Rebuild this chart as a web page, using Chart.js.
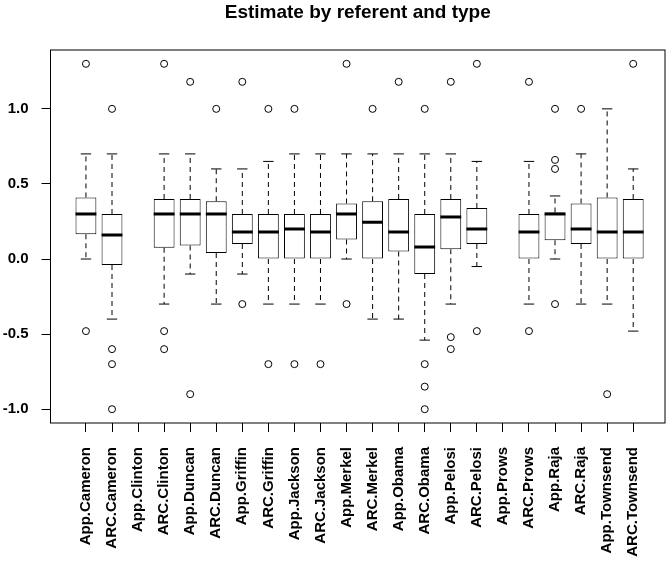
<!DOCTYPE html>
<html>
<head>
<meta charset="utf-8">
<script src="https://cdn.jsdelivr.net/npm/chart.js@4"></script>
<style>
  body { margin: 0; background: #ffffff; }
  #wrap { width: 670px; height: 562px; }
</style>
</head>
<body>
<div id="wrap"><canvas id="estimate-chart" width="670" height="562"></canvas></div>
<script>
// Groups along the x axis (referent x type)
const referents = [
    'App.Cameron', 'ARC.Cameron', 'App.Clinton', 'ARC.Clinton', 'App.Duncan', 'ARC.Duncan',
    'App.Griffin', 'ARC.Griffin', 'App.Jackson', 'ARC.Jackson', 'App.Merkel', 'ARC.Merkel',
    'App.Obama', 'ARC.Obama', 'App.Pelosi', 'ARC.Pelosi', 'App.Prows', 'ARC.Prows',
    'App.Raja', 'ARC.Raja', 'App.Townsend', 'ARC.Townsend'
];

// Box statistics (null = empty group)
const whiskerLow  = [0, -0.4, null, -0.3, -0.1, -0.3, -0.1, -0.3, -0.3, -0.3, 0, -0.4, -0.4, -0.54, -0.3, -0.05, null, -0.3, 0, -0.3, -0.3, -0.48];
const boxLow      = [0.165, -0.04, null, 0.075, 0.09, 0.04, 0.1, 0, 0, 0, 0.13, 0, 0.05, -0.1, 0.065, 0.1, null, 0, 0.125, 0.1, 0, 0];
const boxMedian   = [0.3, 0.16, null, 0.3, 0.3, 0.3, 0.18, 0.18, 0.2, 0.18, 0.3, 0.245, 0.18, 0.08, 0.28, 0.2, null, 0.18, 0.3, 0.2, 0.18, 0.18];
const boxHigh     = [0.41, 0.3, null, 0.4, 0.4, 0.385, 0.3, 0.3, 0.3, 0.3, 0.37, 0.385, 0.4, 0.3, 0.4, 0.34, null, 0.3, 0.31, 0.37, 0.41, 0.4];
const whiskerHigh = [0.7, 0.7, null, 0.7, 0.7, 0.6, 0.6, 0.65, 0.7, 0.7, 0.7, 0.7, 0.7, 0.7, 0.7, 0.65, null, 0.65, 0.42, 0.7, 1.0, 0.6];
const outliers = [
    [1.3, -0.48], [1.0, -0.6, -0.7, -1.0], [], [1.3, -0.48, -0.6], [1.18, -0.9], [1.0],
    [1.18, -0.3], [1.0, -0.7], [1.0, -0.7], [-0.7], [1.3, -0.3], [1.0],
    [1.18], [1.0, -0.7, -0.85, -1.0], [1.18, -0.52, -0.6], [1.3, -0.48], [], [1.18, -0.48],
    [1.0, 0.66, 0.6, -0.3], [1.0], [-0.9], [1.3]
];

const yTicks = [-1.0, -0.5, 0.0, 0.5, 1.0];

const FONT = '"Liberation Sans", Arial, sans-serif';
const BOX_HALF = 0.4;   // half box width in x units
const CAP_HALF = 0.2;   // half whisker cap width

function buildBoxes() {
    const boxes = [];
    referents.forEach((name, i) => {
        if (boxLow[i] === null) return;
        boxes.push({ x: i + 1, y: [boxLow[i], boxHigh[i]] });
    });
    return boxes;
}

function buildOutliers() {
    const points = [];
    outliers.forEach((list, i) => {
        list.forEach(v => points.push({ x: i + 1, y: v }));
    });
    return points;
}

// whiskers, caps, medians and the frame round the plot
const boxPartsPlugin = {
    id: 'boxParts',
    afterDatasetsDraw(chart) {
        const { ctx, chartArea } = chart;
        const xs = chart.scales.x;
        const ys = chart.scales.y;
        ctx.save();
        ctx.strokeStyle = '#000000';

        referents.forEach((name, i) => {
            if (boxLow[i] === null) return;
            const cx = xs.getPixelForValue(i + 1);
            const left = xs.getPixelForValue(i + 1 - BOX_HALF);
            const right = xs.getPixelForValue(i + 1 + BOX_HALF);
            const capL = xs.getPixelForValue(i + 1 - CAP_HALF);
            const capR = xs.getPixelForValue(i + 1 + CAP_HALF);

            // dashed whiskers
            ctx.lineWidth = 1;
            ctx.setLineDash([5, 4]);
            ctx.beginPath();
            ctx.moveTo(cx, ys.getPixelForValue(boxHigh[i]));
            ctx.lineTo(cx, ys.getPixelForValue(whiskerHigh[i]));
            ctx.moveTo(cx, ys.getPixelForValue(boxLow[i]));
            ctx.lineTo(cx, ys.getPixelForValue(whiskerLow[i]));
            ctx.stroke();

            // caps
            ctx.setLineDash([]);
            ctx.beginPath();
            ctx.moveTo(capL, ys.getPixelForValue(whiskerHigh[i]));
            ctx.lineTo(capR, ys.getPixelForValue(whiskerHigh[i]));
            ctx.moveTo(capL, ys.getPixelForValue(whiskerLow[i]));
            ctx.lineTo(capR, ys.getPixelForValue(whiskerLow[i]));
            ctx.stroke();

            // median
            ctx.lineWidth = 3;
            ctx.beginPath();
            ctx.moveTo(left, ys.getPixelForValue(boxMedian[i]));
            ctx.lineTo(right, ys.getPixelForValue(boxMedian[i]));
            ctx.stroke();
        });

        ctx.lineWidth = 1;
        ctx.strokeRect(chartArea.left, chartArea.top, chartArea.right - chartArea.left, chartArea.bottom - chartArea.top);
        ctx.restore();
    }
};

function setupChart() {
    const canvas = document.getElementById('estimate-chart');
    if (!canvas || typeof Chart === 'undefined') {
        console.error('Chart.js or canvas missing');
        return;
    }

    new Chart(canvas.getContext('2d'), {
        type: 'bar',
        data: {
            datasets: [{
                label: 'Boxes',
                data: buildBoxes(),
                backgroundColor: '#ffffff',
                borderColor: '#000000',
                borderWidth: 1,
                borderSkipped: false,
                barPercentage: 0.8,
                categoryPercentage: 1.0,
                order: 2
            }, {
                type: 'scatter',
                label: 'Outliers',
                data: buildOutliers(),
                pointStyle: 'circle',
                pointRadius: 3.5,
                backgroundColor: 'rgba(0,0,0,0)',
                borderColor: '#000000',
                borderWidth: 1,
                order: 1
            }]
        },
        options: {
            responsive: false,
            devicePixelRatio: 1,
            animation: false,
            layout: { padding: { left: 0, right: 5, top: 0, bottom: 0 } },
            scales: {
                x: {
                    type: 'linear',
                    offset: false,
                    min: -0.36,
                    max: 23.22,
                    afterBuildTicks: scale => {
                        scale.ticks = referents.map((n, i) => ({ value: i + 1 }));
                    },
                    afterFit: scale => { scale.height = 139; },
                    ticks: {
                        autoSkip: false,
                        minRotation: 90,
                        maxRotation: 90,
                        padding: 15,
                        color: '#000000',
                        font: { family: FONT, size: 15, weight: 'bold' },
                        callback: value => referents[Math.round(value) - 1]
                    },
                    grid: {
                        offset: false,
                        drawOnChartArea: false,
                        drawTicks: true,
                        tickLength: 9,
                        color: '#000000',
                        lineWidth: 1
                    },
                    border: { display: false }
                },
                y: {
                    min: -1.092,
                    max: 1.392,
                    afterBuildTicks: scale => {
                        scale.ticks = yTicks.map(v => ({ value: v }));
                    },
                    afterFit: scale => { scale.width = 50.5; },
                    ticks: {
                        padding: 13,
                        color: '#000000',
                        font: { family: FONT, size: 15, weight: 'bold' },
                        callback: value => value.toFixed(1)
                    },
                    grid: {
                        drawOnChartArea: false,
                        drawTicks: true,
                        tickLength: 9,
                        color: '#000000',
                        lineWidth: 1
                    },
                    border: { display: false }
                }
            },
            plugins: {
                legend: { display: false },
                tooltip: { enabled: false },
                title: {
                    display: true,
                    fullSize: false,
                    text: 'Estimate by referent and type',
                    color: '#000000',
                    font: { family: FONT, size: 19, weight: 'bold' },
                    padding: { top: 1, bottom: 26.2 }
                }
            }
        },
        plugins: [boxPartsPlugin]
    });
}

setupChart();
</script>
</body>
</html>
